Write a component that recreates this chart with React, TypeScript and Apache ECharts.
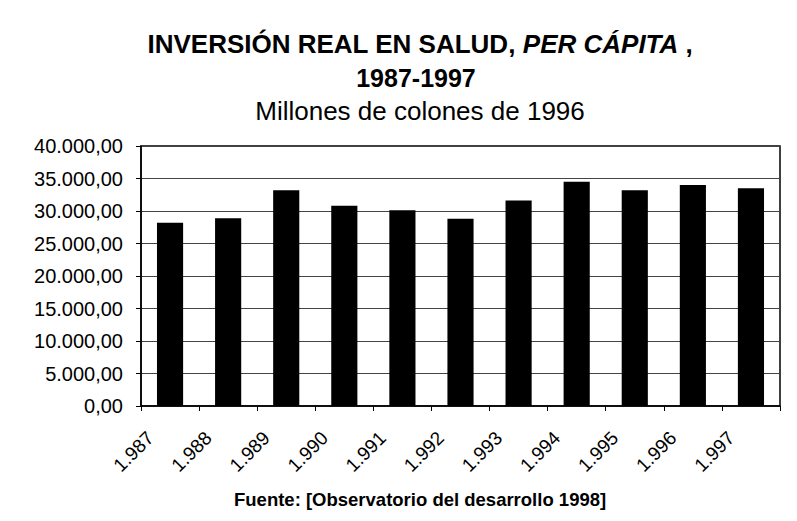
import React, { useEffect, useRef } from "react";
import * as echarts from "echarts";

const categories = ["1.987", "1.988", "1.989", "1.990", "1.991", "1.992", "1.993", "1.994", "1.995", "1.996", "1.997"];
const values = [28200, 28900, 33200, 30800, 30100, 28800, 31600, 34500, 33200, 34000, 33500];
const yMin = 0;
const yMax = 40000;
const yInterval = 5000;

const titleLine1a = "INVERSIÓN REAL EN SALUD, ";
const titleLine1b = "PER CÁPITA";
const titleLine1c = " ,";
const titleLine2 = "1987-1997";
const subtitle = "Millones de colones de 1996";
const footer = "Fuente: [Observatorio del desarrollo 1998]";

const FONT = "'Liberation Sans', Arial, Helvetica, sans-serif";

function fmt(v: number): string {
  const intPart = Math.floor(v).toString().replace(/\B(?=(\d{3})+(?!\d))/g, ".");
  return intPart + ",00";
}

export default function App() {
  const ref = useRef<HTMLDivElement>(null);
  useEffect(() => {
    if (!ref.current) return;
    const chart = echarts.init(ref.current, undefined, { renderer: "svg" });
    chart.setOption({
      animation: false,
      backgroundColor: "#fff",
      textStyle: { fontFamily: FONT, color: "#000" },
      title: [
        {
          left: 415,
          textAlign: "center",
          top: 26,
          text: "{b|" + titleLine1a + "}{bi|" + titleLine1b + "}{b|" + titleLine1c + "}",
          textStyle: {
            rich: {
              b: { fontFamily: FONT, fontWeight: "bold", fontSize: 26, color: "#000" },
              bi: { fontFamily: FONT, fontWeight: "bold", fontStyle: "italic", fontSize: 26, color: "#000" },
            },
          },
        },
        {
          left: 411,
          textAlign: "center",
          top: 60,
          text: titleLine2,
          textStyle: { fontFamily: FONT, fontWeight: "bold", fontSize: 25, color: "#000" },
        },
        {
          left: 415,
          textAlign: "center",
          top: 93,
          text: subtitle,
          textStyle: { fontFamily: FONT, fontWeight: "normal", fontSize: 26, color: "#000" },
        },
        {
          left: 229,
          top: 485,
          text: footer,
          textStyle: { fontFamily: FONT, fontWeight: "bold", fontSize: 18.5, color: "#000" },
        },
      ],
      grid: {
        left: 141,
        right: 17,
        top: 146,
        bottom: 115,
        show: true,
        borderColor: "#000",
        borderWidth: 1.5,
        backgroundColor: "transparent",
      },
      xAxis: {
        type: "category",
        data: categories,
        axisLine: { show: true, lineStyle: { color: "#000", width: 1.5 } },
        axisTick: { show: true, length: 5, lineStyle: { color: "#000" } },
        axisLabel: {
          rotate: 45,
          interval: 0,
          margin: 9,
          padding: [0, 28, 0, 0],
          fontSize: 19,
          fontFamily: FONT,
          color: "#000",
        },
        splitLine: { show: false },
      },
      yAxis: {
        type: "value",
        min: yMin,
        max: yMax,
        interval: yInterval,
        axisLine: { show: true, lineStyle: { color: "#000", width: 1.5 } },
        axisTick: { show: true, length: 5, lineStyle: { color: "#000" } },
        axisLabel: {
          fontSize: 20,
          fontFamily: FONT,
          color: "#000",
          margin: 18,
          formatter: (v: number) => fmt(v),
        },
        splitLine: { show: true, lineStyle: { color: "#444", width: 1 } },
      },
      series: [
        {
          type: "bar",
          data: values,
          barCategoryGap: "55%",
          itemStyle: { color: "#000" },
        },
      ],
    });
    return () => chart.dispose();
  }, []);
  return <div ref={ref} style={{ width: 797, height: 521, position: "absolute", left: 0, top: 0 }} />;
}
